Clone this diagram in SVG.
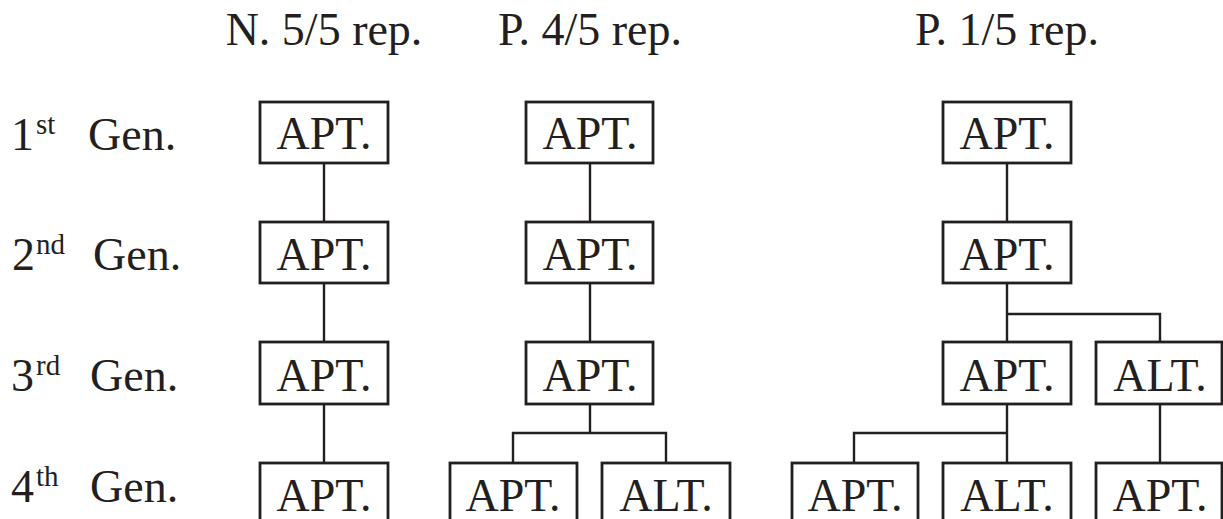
<svg xmlns="http://www.w3.org/2000/svg" width="1223" height="519" viewBox="0 0 1223 519">
<style>
text{font-family:"Liberation Serif",Tinos,"Times New Roman",Times,serif;fill:#231f20}
.t{font-size:46px}
.h{font-size:46px;text-anchor:middle}
.b{font-size:46px;text-anchor:middle}
.s{font-size:29px}
rect{fill:#fff;stroke:#231f20;stroke-width:2.8}
.c{fill:none;stroke:#231f20;stroke-width:2.4}
</style>
<rect x="0" y="0" width="1223" height="519" style="stroke:none"/>
<g id="headers">
<text class="h" x="324" y="45">N. 5/5 rep.</text>
<text class="h" x="590" y="45">P. 4/5 rep.</text>
<text class="h" x="1007" y="45">P. 1/5 rep.</text>
</g>
<g id="row-labels">
<text class="t" x="11" y="150">1</text><text class="s" x="36" y="134">st</text><text class="t" x="88" y="150">Gen.</text>
<text class="t" x="12" y="270">2</text><text class="s" x="36" y="254">nd</text><text class="t" x="93" y="270">Gen.</text>
<text class="t" x="11" y="391">3</text><text class="s" x="36" y="375">rd</text><text class="t" x="90" y="391">Gen.</text>
<text class="t" x="11" y="502">4</text><text class="s" x="36" y="486">th</text><text class="t" x="90" y="502">Gen.</text>
</g>
<g id="connectors">
<path class="c" d="M324 163V222M324 283V342M324 404V463"/>
<path class="c" d="M590 163V222M590 283V342M590 404V433M513 463V433H666V463"/>
<path class="c" d="M1007 163V222M1007 283V342M1007 314H1160V342M1007 404V463M1007 433H854V463M1160 404V463"/>
</g>
<g id="n1-1"><rect x="260" y="102" width="128" height="61"/><text class="b" x="324" y="149">APT.</text></g>
<g id="n1-2"><rect x="260" y="222" width="128" height="61"/><text class="b" x="324" y="270">APT.</text></g>
<g id="n1-3"><rect x="260" y="342" width="128" height="62"/><text class="b" x="324" y="391">APT.</text></g>
<g id="n1-4"><rect x="260" y="463" width="128" height="62"/><text class="b" x="324" y="511">APT.</text></g>
<g id="n2-1"><rect x="526" y="102" width="127" height="61"/><text class="b" x="590" y="149">APT.</text></g>
<g id="n2-2"><rect x="526" y="222" width="127" height="61"/><text class="b" x="590" y="270">APT.</text></g>
<g id="n2-3"><rect x="526" y="342" width="127" height="62"/><text class="b" x="590" y="391">APT.</text></g>
<g id="n2-4a"><rect x="450" y="463" width="127" height="62"/><text class="b" x="513" y="511">APT.</text></g>
<g id="n2-4b"><rect x="602" y="463" width="128" height="62"/><text class="b" x="666" y="511">ALT.</text></g>
<g id="n3-1"><rect x="943" y="102" width="128" height="61"/><text class="b" x="1007" y="149">APT.</text></g>
<g id="n3-2"><rect x="943" y="222" width="128" height="61"/><text class="b" x="1007" y="270">APT.</text></g>
<g id="n3-3a"><rect x="943" y="342" width="128" height="62"/><text class="b" x="1007" y="391">APT.</text></g>
<g id="n3-3b"><rect x="1096" y="342" width="126" height="62"/><text class="b" x="1160" y="391">ALT.</text></g>
<g id="n3-4a"><rect x="792" y="463" width="126" height="62"/><text class="b" x="855" y="511">APT.</text></g>
<g id="n3-4b"><rect x="943" y="463" width="128" height="62"/><text class="b" x="1007" y="511">ALT.</text></g>
<g id="n3-4c"><rect x="1096" y="463" width="126" height="62"/><text class="b" x="1160" y="511">APT.</text></g>
</svg>
